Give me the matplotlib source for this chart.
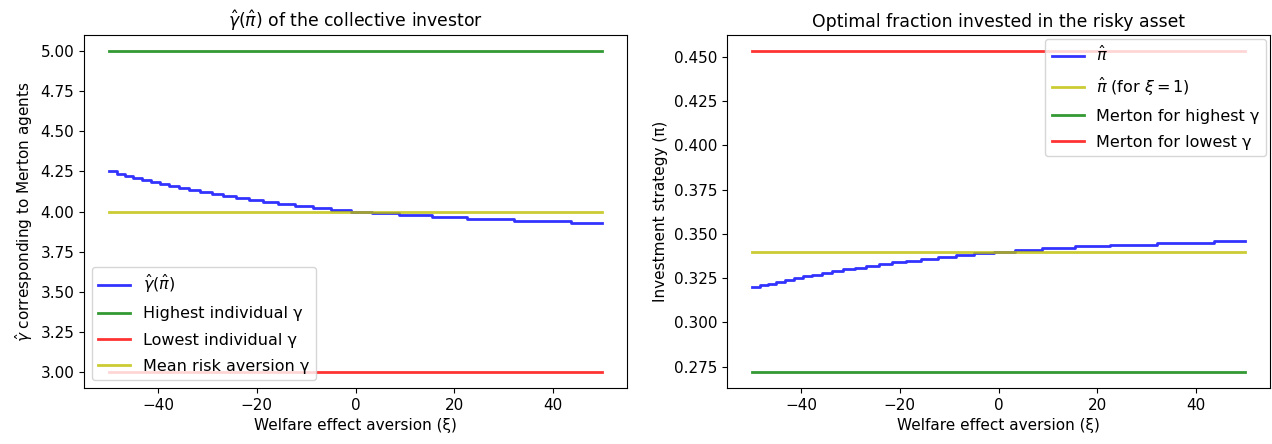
import matplotlib
matplotlib.use("Agg")
import matplotlib.pyplot as plt

# Range of the welfare effect aversion parameter
xi_min, xi_max = -50, 50

# xi values at which the optimal fraction jumps to the next level
xi_breaks = [-48.4, -46.75, -45.05, -43.3, -41.5, -39.65, -37.75, -35.75,
             -33.65, -31.45, -29.15, -26.75, -24.2, -21.5, -18.65, -15.6,
             -12.2, -8.7, -5.0, -1.0, 3.4, 8.9, 15.4, 22.6, 32.0, 43.6]

# Optimal fraction in the risky asset on each interval (pi hat)
pi_levels = [0.320, 0.321, 0.322, 0.323, 0.324, 0.325, 0.326, 0.327, 0.328,
             0.329, 0.330, 0.331, 0.332, 0.333, 0.334, 0.335, 0.336, 0.337,
             0.338, 0.339, 0.340, 0.341, 0.342, 0.343, 0.344, 0.345, 0.346]

# Implied risk aversion of the collective investor on each interval
gamma_levels = [4.250, 4.237, 4.224, 4.211, 4.198, 4.185, 4.172, 4.159, 4.146,
                4.134, 4.121, 4.109, 4.096, 4.084, 4.072, 4.060, 4.048, 4.036,
                4.024, 4.012, 4.000, 3.988, 3.977, 3.965, 3.953, 3.942, 3.931]

# Reference levels
gamma_highest = 5.0
gamma_lowest = 3.0
gamma_mean = 4.0
pi_xi_one = 0.340
pi_merton_highest = 0.272
pi_merton_lowest = 0.4533

step_x = [xi_min] + xi_breaks + [xi_max]
step_gamma = gamma_levels + [gamma_levels[-1]]
step_pi = pi_levels + [pi_levels[-1]]
span = [xi_min, xi_max]

plt.rcParams['font.family'] = ['DejaVu Sans']
plt.rcParams['font.size'] = 11
plt.rcParams['axes.titlesize'] = 12.4
plt.rcParams['legend.fontsize'] = 11.5
plt.rcParams['legend.labelspacing'] = 0.7

fig = plt.figure(figsize=(12.72, 4.44), dpi=100)
ax1 = fig.add_axes([0.066, 0.126, 0.427, 0.795])
ax2 = fig.add_axes([0.5715, 0.126, 0.427, 0.795])

lw = 2.0
al = 0.8

# Left panel: risk aversion of the collective investor
ax1.plot(step_x, step_gamma, drawstyle='steps-post', color='b', lw=lw, alpha=al,
         label=r'$\hat{\gamma}(\hat{\pi})$')
ax1.plot(span, [gamma_highest] * 2, color='g', lw=lw, alpha=al, label='Highest individual γ')
ax1.plot(span, [gamma_lowest] * 2, color='r', lw=lw, alpha=al, label='Lowest individual γ')
ax1.plot(span, [gamma_mean] * 2, color='y', lw=lw, alpha=al, label='Mean risk aversion γ')
ax1.set_title(r'$\hat{\gamma}(\hat{\pi})$ of the collective investor')
ax1.set_xlabel('Welfare effect aversion (ξ)')
ax1.set_ylabel(r'$\hat{\gamma}$ corresponding to Merton agents')
ax1.legend(loc='lower left')

# Right panel: optimal fraction invested in the risky asset
ax2.plot(step_x, step_pi, drawstyle='steps-post', color='b', lw=lw, alpha=al,
         label=r'$\hat{\pi}$')
ax2.plot(span, [pi_xi_one] * 2, color='y', lw=lw, alpha=al, label=r'$\hat{\pi}$ (for $\xi = 1$)')
ax2.plot(span, [pi_merton_highest] * 2, color='g', lw=lw, alpha=al, label='Merton for highest γ')
ax2.plot(span, [pi_merton_lowest] * 2, color='r', lw=lw, alpha=al, label='Merton for lowest γ')
ax2.set_title('Optimal fraction invested in the risky asset')
ax2.set_xlabel('Welfare effect aversion (ξ)')
ax2.set_ylabel('Investment strategy (π)')
ax2.legend(loc='upper right', borderaxespad=0.25)

fig.savefig('out.png', dpi=100)
